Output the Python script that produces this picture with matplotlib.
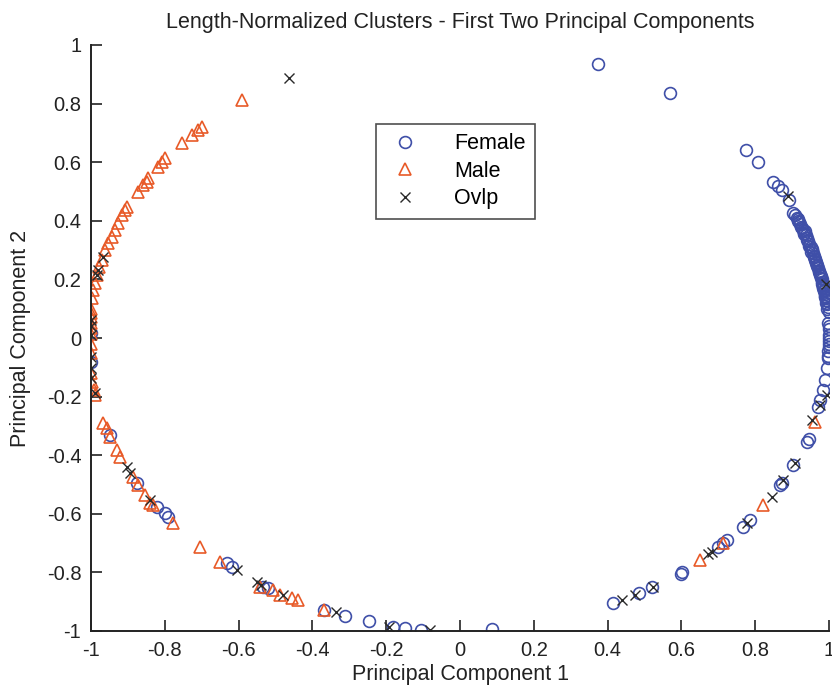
import matplotlib
matplotlib.use("Agg")
import matplotlib.pyplot as plt

plt.rcParams['font.family'] = ['Liberation Sans', 'DejaVu Sans']

title = "Length-Normalized Clusters - First Two Principal Components"
xlabel = "Principal Component 1"
ylabel = "Principal Component 2"
ticks = [-1, -0.8, -0.6, -0.4, -0.2, 0, 0.2, 0.4, 0.6, 0.8, 1]
tick_labels = ["-1", "-0.8", "-0.6", "-0.4", "-0.2", "0", "0.2", "0.4", "0.6", "0.8", "1"]

female_x = [0.374, 0.569, 0.775, 0.808, 0.848, 0.862, 0.873, 0.892,
            0.908, 0.917, 0.925, 0.929, 0.937, 0.940, 0.947, 0.954, 0.957, 0.963, 0.966,
            0.968, 0.973, 0.975, 0.980, 0.982, 0.984, 0.987, 0.989, 0.992, 0.993, 0.995,
            0.912, 0.921, 0.933, 0.944, 0.950, 0.960, 0.970, 0.978, 0.985, 0.990,
            0.918, 0.926, 0.931, 0.940, 0.946, 0.952, 0.958, 0.962, 0.968, 0.972,
            0.977, 0.981, 0.986, 0.991, 0.995, 0.998, 0.903, 0.915, 0.936, 0.955,
            0.966, 0.975, 0.983, 0.988, 0.994, 0.999,
            0.998, 0.999, 1.000, 1.000, 0.999, 0.998, 1.000, 0.999, 1.000, 0.998,
            0.997, 0.995, 0.989, 0.984, 0.976, 0.970, 0.940, 0.945, 0.902, 0.873, 0.868,
            0.767, 0.786, 0.724, 0.713, 0.699, 0.602, 0.598, 0.520, 0.485, 0.415,
            -0.312, -0.247, -0.182, -0.149, -0.106, 0.087, -0.369,
            -0.948, -0.875, -0.821, -0.799, -0.791, -0.631, -0.618, -0.534, -0.520,
            -1.000, -1.000]
female_y = [0.935, 0.836, 0.642, 0.601, 0.532, 0.519, 0.505, 0.471,
            0.420, 0.400, 0.380, 0.370, 0.350, 0.340, 0.320, 0.300, 0.290, 0.270, 0.260,
            0.250, 0.230, 0.220, 0.200, 0.190, 0.180, 0.160, 0.150, 0.130, 0.120, 0.100,
            0.410, 0.390, 0.360, 0.330, 0.310, 0.280, 0.240, 0.210, 0.170, 0.140,
            0.395, 0.375, 0.355, 0.335, 0.315, 0.295, 0.275, 0.265, 0.245, 0.225,
            0.205, 0.185, 0.165, 0.135, 0.115, 0.105, 0.425, 0.405, 0.365, 0.305,
            0.255, 0.215, 0.175, 0.145, 0.125, 0.090,
            0.050, 0.030, 0.010, -0.010, -0.030, -0.060, 0.040, 0.000, -0.020, -0.045,
            -0.068, -0.102, -0.143, -0.177, -0.212, -0.235, -0.355, -0.345, -0.433, -0.495, -0.503,
            -0.645, -0.621, -0.689, -0.700, -0.713, -0.799, -0.805, -0.850, -0.870, -0.904,
            -0.949, -0.966, -0.986, -0.990, -0.997, -0.993, -0.928,
            -0.331, -0.495, -0.577, -0.597, -0.611, -0.768, -0.782, -0.850, -0.853,
            0.017, -0.082]

male_x = [-0.591, -0.699, -0.710, -0.726, -0.753, -0.799, -0.808, -0.818, -0.846, -0.848,
          -0.859, -0.873, -0.902, -0.908, -0.916, -0.927, -0.935, -0.943, -0.954, -0.962,
          -0.970, -0.978, -0.984, -0.989, -0.995, -0.997,
          -1.000, -1.000, -1.000, -1.000, -1.000, -1.000, -1.000, -1.000, -0.999, -0.998,
          -0.989, -0.993,
          -0.967, -0.957, -0.948, -0.930, -0.921, -0.886, -0.873, -0.854, -0.840, -0.832,
          -0.778, -0.705, -0.650, -0.542, -0.507, -0.488, -0.455, -0.439, -0.369,
          0.962, 0.821, 0.713, 0.650]
male_y = [0.812, 0.720, 0.710, 0.693, 0.666, 0.614, 0.601, 0.584, 0.546, 0.532,
          0.522, 0.498, 0.447, 0.437, 0.420, 0.392, 0.369, 0.345, 0.324, 0.300,
          0.266, 0.242, 0.215, 0.188, 0.164, 0.137,
          0.100, 0.085, 0.072, 0.050, 0.035, 0.015, -0.020, -0.050, -0.120, -0.150,
          -0.195, -0.178,
          -0.290, -0.307, -0.338, -0.382, -0.406, -0.474, -0.502, -0.536, -0.563, -0.570,
          -0.631, -0.713, -0.765, -0.850, -0.860, -0.877, -0.887, -0.894, -0.928,
          -0.287, -0.570, -0.700, -0.758]

ovlp_x = [-0.463, -0.967, -0.981, -0.984, -1.000, -1.000, -1.000,
          -1.000, -1.000, -1.000, -0.989,
          -0.902, -0.894, -0.840, -0.604, -0.550, -0.540, -0.480,
          -0.336, -0.192, -0.081,
          0.889, 0.992, 0.995, 0.976, 0.954, 0.908, 0.875, 0.846, 0.778,
          0.683, 0.673, 0.523, 0.474, 0.439]
ovlp_y = [0.887, 0.276, 0.232, 0.215, 0.060, 0.040, 0.010,
          -0.065, -0.102, -0.137, -0.188,
          -0.440, -0.461, -0.553, -0.792, -0.833, -0.843, -0.877,
          -0.935, -0.986, -0.997,
          0.485, 0.184, -0.195, -0.229, -0.280, -0.427, -0.485, -0.543, -0.631,
          -0.730, -0.738, -0.850, -0.877, -0.894]

fig = plt.figure(figsize=(8.32, 6.87), dpi=100)
ax = fig.add_axes([91/832, 1 - 631/687, (829 - 91)/832, (631 - 45)/687])

ax.plot(female_x, female_y, linestyle='none', marker='o', markersize=8.5,
        markerfacecolor='none', markeredgecolor='#3f4fa8', markeredgewidth=1.2, label='Female')
ax.plot(male_x, male_y, linestyle='none', marker='^', markersize=8,
        markerfacecolor='none', markeredgecolor='#e85a28', markeredgewidth=1.2, label='Male')
ax.plot(ovlp_x, ovlp_y, linestyle='none', marker='x', markersize=7.5,
        color='#2a2a2a', markeredgewidth=1.0, label='Ovlp')

ax.set_xlim(-1, 1)
ax.set_ylim(-1, 1)
ax.set_xticks(ticks)
ax.set_xticklabels(tick_labels)
ax.set_yticks(ticks)
ax.set_yticklabels(tick_labels)
for s in ['top', 'right']:
    ax.spines[s].set_visible(False)
for s in ['left', 'bottom']:
    ax.spines[s].set_linewidth(1.4)
    ax.spines[s].set_color('#222222')
ax.tick_params(direction='in', length=8, width=1.2, labelsize=14.5, colors='#222222', pad=7)

ax.set_title(title, fontsize=15.5, color='#222222', pad=12)
ax.set_xlabel(xlabel, fontsize=15.5, color='#222222', labelpad=3)
ax.set_ylabel(ylabel, fontsize=15.5, color='#222222', labelpad=11)

leg = ax.legend(loc='upper left', bbox_to_anchor=(0.371, 0.884), fontsize=15.5,
                frameon=True, fancybox=False, edgecolor='#222222', borderpad=0.45,
                handletextpad=1.4, handlelength=1.8, labelspacing=0.3)
leg.get_frame().set_linewidth(1.2)

fig.savefig('out.png', dpi=100)
